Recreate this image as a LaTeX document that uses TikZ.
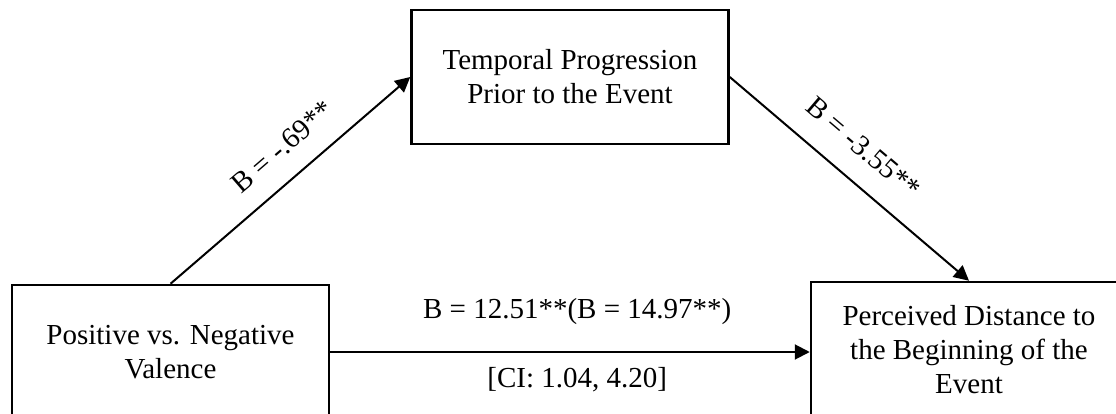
\documentclass[tikz,border=0pt]{standalone}
\usepackage{fontspec}
\setmainfont{Liberation Serif}
\usetikzlibrary{arrows.meta}
\begin{document}
\begin{tikzpicture}[x=1pt,y=-1pt,
  varbox/.style={draw=black, line width=2.5pt, fill=white, align=center,
    minimum width=317pt, inner sep=0pt,
    font=\fontsize{29}{34}\selectfont},
  conn/.style={line width=2pt, -{Triangle[length=15pt,width=15pt]}},
  lbl/.style={font=\fontsize{29}{34}\selectfont, inner sep=0pt}]
\clip (0,0) rectangle (1116,414);
\fill[white] (0,0) rectangle (1116,414);
\node[varbox, minimum height=134pt] (med) at (570,77) {Temporal Progression\\Prior to the Event};
\node[varbox, minimum height=134pt] (iv) at (170.5,352) {Positive vs. Negative\\Valence};
\node[varbox, minimum width=316pt, minimum height=136pt] (dv) at (969,350) {Perceived Distance to\\the Beginning of the\\Event};
\draw[conn] (iv.north) -- (med.west)
  node[lbl, sloped, pos=0.55, above=20pt] (la) {B = -.69**};
\draw[conn] (med.east) -- (dv.north)
  node[lbl, sloped, pos=0.47, above=22pt] (lb) {B = -3.55**};
\draw[conn] (iv.east) -- (iv.east -| dv.west)
  node[lbl, pos=0.515, yshift=40pt] (lc) {B = 12.51**(B = 14.97**)}
  node[lbl, pos=0.515, yshift=-28pt] (ld) {[CI: 1.04, 4.20]};
\end{tikzpicture}
\end{document}
